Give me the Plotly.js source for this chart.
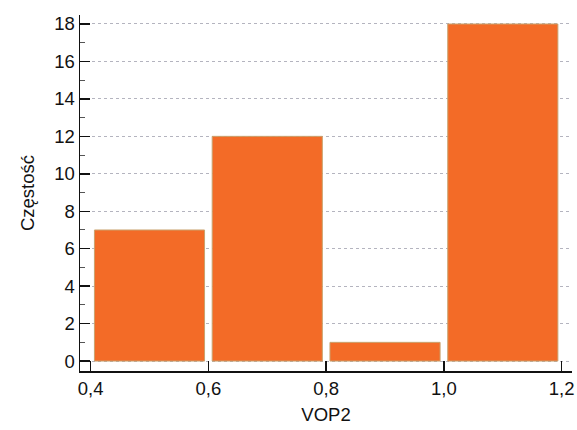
<!DOCTYPE html>
<html><head><meta charset="utf-8">
<script src="https://cdn.plot.ly/plotly-3.0.1.min.js"></script>
<style>html,body{margin:0;padding:0;background:#fff}#chart{width:577px;height:430px}</style>
</head><body><div id="chart"></div>
<script>
const binStarts = [0.4, 0.6, 0.8, 1.0];
const binWidth = 0.2;
const counts = [7, 12, 1, 18];
const xTitle = "VOP2";
const yTitle = "Częstość";

const centers = binStarts.map(s => s + binWidth / 2);

const trace = {
  type: 'bar',
  x: centers,
  y: counts,
  width: binWidth * 0.935,
  marker: {color: '#F36B27', line: {color: '#C9A26E', width: 1}},
  hoverinfo: 'x+y'
};

const layout = {
  width: 577, height: 430,
  margin: {l: 80, r: 5, t: 15, b: 59},
  paper_bgcolor: '#fff', plot_bgcolor: '#fff',
  separators: ', ',
  showlegend: false,
  font: {family: 'Liberation Sans, Arial, sans-serif', color: '#111'},
  xaxis: {
    range: [0.382, 1.2175],
    tick0: 0.4, dtick: 0.2, tickformat: '.1f',
    ticks: 'inside', ticklen: 10, tickwidth: 1.5, tickcolor: '#111',
    showline: true, linecolor: '#111', linewidth: 1.5,
    showgrid: false, zeroline: false,
    tickfont: {size: 18.5},
    title: {text: xTitle, font: {size: 18.5}, standoff: 10}
  },
  yaxis: {
    range: [-0.53, 18.48],
    tick0: 0, dtick: 2,
    ticks: 'inside', ticklen: 10, tickwidth: 1.5, tickcolor: '#111',
    minor: {dtick: 1, ticks: 'inside', ticklen: 5, tickwidth: 1, tickcolor: '#555', showgrid: false},
    showline: true, linecolor: '#111', linewidth: 1.5,
    showgrid: true, gridcolor: '#b4b4bf', gridwidth: 1, griddash: '3px,3px',
    zeroline: false,
    tickfont: {size: 18.5},
    title: {text: yTitle, font: {size: 18.5}, standoff: 14}
  }
};

Plotly.newPlot('chart', [trace], layout, {displayModeBar: false, staticPlot: true});
</script></body></html>
